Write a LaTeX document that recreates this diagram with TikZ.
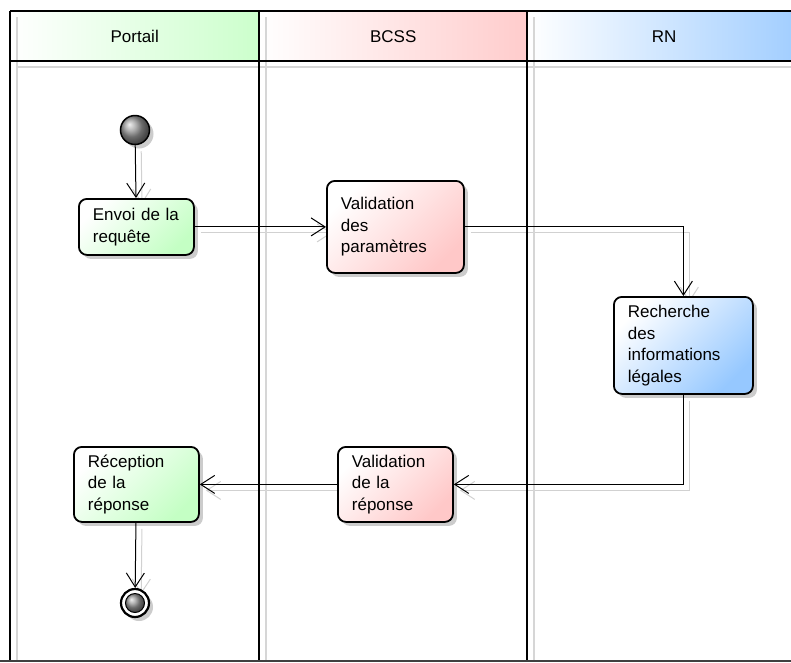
\documentclass[tikz,border=0pt]{standalone}
\usepackage{fontspec}
\setmainfont{Liberation Sans}
\usetikzlibrary{arrows.meta,shadows,calc}
\pgfdeclarelayer{shad}
\pgfsetlayers{shad,main}
\definecolor{lgreen}{RGB}{204,255,204}
\definecolor{lpink}{RGB}{255,204,204}
\definecolor{lblue}{RGB}{160,205,255}
\definecolor{bgreen}{RGB}{196,255,196}
\definecolor{bpink}{RGB}{255,200,200}
\definecolor{bblue}{RGB}{150,200,255}
\begin{document}
\begin{tikzpicture}[x=1pt,y=-1pt,
  font=\fontsize{17}{21.5}\selectfont,
  shad/.style={drop shadow={shadow xshift=4pt,shadow yshift=-4pt,fill=black!40,opacity=.5}},
  act/.style={draw=black,line width=1.8pt,rounded corners=8pt,align=left,
    inner xsep=14pt,inner ysep=0pt,anchor=north west,shad},
  grbox/.style={act,left color=white,right color=bgreen,shading angle=45},
  pkbox/.style={act,left color=white,right color=bpink,shading angle=45},
  blbox/.style={act,left color=white,right color=bblue,shading angle=45},
  head/.style={draw=none,inner sep=0pt,anchor=north west,minimum height=50pt},
  lane/.style={line width=2.5pt,black},
  laneshadow/.style={line width=2.5pt,black!16},
  conn/.style={line width=1pt,-{Straight Barb[length=14pt,width=18pt,line width=1pt]}},
  cshadow/.style={conn,draw=black!18,transform canvas={xshift=6pt,yshift=-6pt}}
]
\useasboundingbox (0,0) rectangle (791,662);
% headers
\node[head,minimum width=249pt,left color=white,right color=lgreen] (hP) at (10,11) {Portail};
\node[head,minimum width=268pt,left color=white,right color=lpink] (hB) at (259,11) {BCSS};
\node[head,minimum width=274pt,left color=white,right color=lblue] (hR) at (527,11) {RN};
% lane shadows
\draw[laneshadow] (16,67) -- (801,67);
\foreach \x in {17,266,534} \draw[laneshadow] (\x,17) -- (\x,660);
% lane lines
\draw[lane] (10,11) -- (801,11);
\draw[lane] (10,61) -- (801,61);
\foreach \x in {10,259,527} \draw[lane] (\x,11) -- (\x,662);
\draw[line width=2pt,black!75] (0,661) -- (791,661);
% start / end
\node[circle,minimum size=29pt,inner sep=0pt,draw,line width=1.5pt,ball color=black!40,shad] (start) at (135,130) {};
\node[circle,minimum size=28pt,inner sep=0pt,draw,line width=2.2pt,fill=white,shad] (end) at (135,603) {};
\node[circle,minimum size=19pt,inner sep=0pt,draw,line width=1pt,ball color=black!40] (endin) at (end) {};
% activities
\node[grbox,text width=87pt,minimum width=115pt,minimum height=56pt] (envoi) at (78,198) {Envoi de la\\requête};
\node[pkbox,text width=109pt,minimum width=137pt,minimum height=92pt] (valparam) at (326,180) {Validation\\des\\paramètres};
\node[blbox,text width=111pt,minimum width=139pt,minimum height=97pt] (recherche) at (613,296) {Recherche\\des\\informations\\légales};
\node[pkbox,text width=87pt,minimum width=115pt,minimum height=75pt] (valrep) at (337,446) {Validation\\de la\\réponse};
\node[grbox,text width=97pt,minimum width=125pt,minimum height=75pt] (reception) at (73,446) {Réception\\de la\\réponse};
% connector shadows
\begin{pgfonlayer}{shad}
\draw[cshadow] (start) -- (envoi);
\draw[cshadow] (envoi) -- (valparam);
\draw[cshadow] (valparam.east) -| (recherche.north);
\draw[cshadow] (recherche.south) |- (valrep.east);
\draw[cshadow] (valrep) -- (reception);
\draw[cshadow] (reception) -- (end);
\end{pgfonlayer}
% connectors
\draw[conn] (start) -- (envoi);
\draw[conn] (envoi) -- (valparam);
\draw[conn] (valparam.east) -| (recherche.north);
\draw[conn] (recherche.south) |- (valrep.east);
\draw[conn] (valrep) -- (reception);
\draw[conn] (reception) -- (end);
\end{tikzpicture}
\end{document}
